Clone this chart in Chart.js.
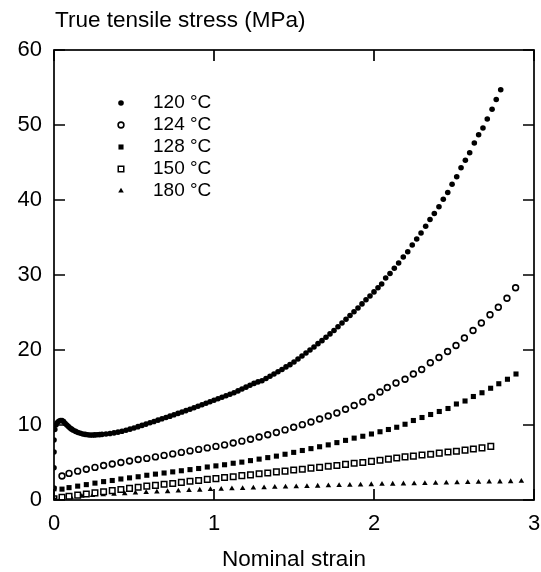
<!DOCTYPE html>
<html>
<head>
<meta charset="utf-8">
<script src="https://cdn.jsdelivr.net/npm/chart.js@4.4.1/dist/chart.umd.min.js"></script>
<style>
  html, body { margin: 0; padding: 0; background: #fff; }
  #wrap { width: 541px; height: 572px; }
</style>
</head>
<body>
<div id="wrap"><canvas id="chart" width="541" height="572"></canvas></div>
<script>
// axis ticks
const xTicks = [0, 1, 2, 3];
const yTicks = [0, 10, 20, 30, 40, 50, 60];

// 120 C (filled circles)
const strain120 = [0, 0, 0, 0, 0, 0.005, 0.012, 0.02, 0.03, 0.04, 0.05, 0.06, 0.07, 0.08, 0.09, 0.1, 0.11, 0.12, 0.135, 0.15,
  0.165, 0.18, 0.195, 0.21, 0.225, 0.24, 0.255, 0.27, 0.285, 0.3, 0.325, 0.35, 0.375, 0.4, 0.425, 0.45, 0.475, 0.5,
  0.525, 0.55, 0.575, 0.6, 0.625, 0.65, 0.675, 0.7, 0.725, 0.75, 0.775, 0.8, 0.825, 0.85, 0.875, 0.9, 0.925, 0.95, 0.975,
  1.0, 1.025, 1.05, 1.075, 1.1, 1.125, 1.15, 1.175, 1.2, 1.225, 1.25, 1.275, 1.3, 1.325, 1.35, 1.375, 1.4, 1.425, 1.45,
  1.475, 1.5, 1.525, 1.55, 1.575, 1.6, 1.625, 1.65, 1.675, 1.7, 1.725, 1.75, 1.775, 1.8, 1.825, 1.85, 1.875, 1.9, 1.925,
  1.95, 1.975, 2.0, 2.025, 2.048, 2.073, 2.1, 2.127, 2.154, 2.183, 2.211, 2.239, 2.267, 2.294, 2.323, 2.35, 2.377, 2.406,
  2.433, 2.461, 2.488, 2.517, 2.544, 2.571, 2.598, 2.627, 2.654, 2.681, 2.708, 2.738, 2.764, 2.792];
const stress120 = [0, 1.6, 4.3, 6.4, 8.0, 9.4, 10.0, 10.3, 10.5, 10.6, 10.6, 10.45, 10.2, 10.0, 9.8, 9.6, 9.45, 9.3, 9.15, 9.0,
  8.9, 8.8, 8.75, 8.7, 8.67, 8.67, 8.68, 8.7, 8.72, 8.75, 8.8, 8.87, 8.95, 9.05, 9.17, 9.3, 9.45, 9.6,
  9.78, 9.95, 10.12, 10.3, 10.47, 10.65, 10.83, 11.0, 11.18, 11.37, 11.55, 11.73, 11.92, 12.1, 12.3, 12.5, 12.7, 12.9, 13.1,
  13.3, 13.5, 13.7, 13.9, 14.1, 14.3, 14.55, 14.8, 15.05, 15.3, 15.55, 15.75, 15.9, 16.2, 16.5, 16.8, 17.1, 17.4, 17.75,
  18.05, 18.4, 18.8, 19.2, 19.6, 20.0, 20.4, 20.85, 21.25, 21.7, 22.15, 22.6, 23.1, 23.6, 24.1, 24.6, 25.1, 25.6, 26.15,
  26.7, 27.2, 27.75, 28.3, 28.8, 29.6, 30.2, 30.9, 31.6, 32.4, 33.1, 34.0, 34.8, 35.6, 36.5, 37.4, 38.2, 39.1,
  40.1, 41.0, 42.1, 43.1, 44.3, 45.3, 46.3, 47.6, 48.7, 49.6, 50.8, 52.1, 53.4, 54.7];

// 124 C (open circles)
const strain124 = [0.05, 0.094, 0.148, 0.202, 0.256, 0.31, 0.364, 0.418, 0.472, 0.526, 0.58, 0.634, 0.688, 0.742, 0.796,
  0.85, 0.904, 0.958, 1.012, 1.066, 1.12, 1.174, 1.228, 1.282, 1.336, 1.39, 1.444, 1.498, 1.552, 1.606, 1.66, 1.714,
  1.768, 1.822, 1.876, 1.93, 1.984, 2.0375, 2.083, 2.1375, 2.194, 2.246, 2.298, 2.352, 2.406, 2.46, 2.5125, 2.565,
  2.619, 2.671, 2.725, 2.777, 2.831, 2.885];
const stress124 = [3.2, 3.55, 3.85, 4.1, 4.35, 4.6, 4.8, 5.0, 5.2, 5.4, 5.55, 5.75, 5.95, 6.15, 6.35,
  6.55, 6.75, 6.95, 7.15, 7.35, 7.6, 7.85, 8.1, 8.4, 8.7, 9.0, 9.35, 9.7, 10.05, 10.4, 10.8, 11.2,
  11.6, 12.1, 12.6, 13.1, 13.7, 14.4, 15.0, 15.6, 16.1, 16.8, 17.4, 18.3, 19.0, 19.8, 20.6, 21.6,
  22.6, 23.6, 24.7, 25.7, 26.9, 28.3];

// 128 C (filled squares)
const strain128 = [0, 0.05, 0.094, 0.148, 0.202, 0.256, 0.31, 0.364, 0.418, 0.472, 0.526, 0.58, 0.634, 0.688, 0.742, 0.796,
  0.85, 0.904, 0.958, 1.012, 1.066, 1.12, 1.174, 1.228, 1.282, 1.336, 1.39, 1.444, 1.498, 1.552, 1.606, 1.66, 1.714,
  1.768, 1.822, 1.876, 1.93, 1.984, 2.0375, 2.09, 2.142, 2.194, 2.246, 2.3, 2.354, 2.408, 2.4625, 2.515, 2.569,
  2.621, 2.675, 2.729, 2.78, 2.834, 2.8875];
const stress128 = [1.5, 1.45, 1.65, 1.85, 2.05, 2.25, 2.45, 2.6, 2.8, 2.95, 3.1, 3.3, 3.45, 3.6, 3.75, 3.9,
  4.05, 4.2, 4.4, 4.55, 4.7, 4.9, 5.05, 5.25, 5.45, 5.65, 5.85, 6.1, 6.35, 6.6, 6.85, 7.1, 7.35,
  7.65, 7.95, 8.25, 8.5, 8.8, 9.1, 9.4, 9.7, 10.1, 10.6, 11.0, 11.4, 11.8, 12.2, 12.8, 13.2,
  13.8, 14.3, 14.9, 15.5, 16.1, 16.8];

// 150 C (open squares)
const strain150 = [0, 0.05, 0.094, 0.148, 0.202, 0.256, 0.31, 0.364, 0.418, 0.472, 0.526, 0.58, 0.634, 0.688, 0.742, 0.796,
  0.85, 0.904, 0.958, 1.012, 1.066, 1.12, 1.174, 1.228, 1.282, 1.336, 1.39, 1.444, 1.498, 1.552, 1.606, 1.66, 1.714,
  1.768, 1.822, 1.876, 1.93, 1.984, 2.0375, 2.09, 2.142, 2.194, 2.246, 2.3, 2.354, 2.408, 2.4625, 2.515, 2.569,
  2.621, 2.675, 2.73];
const stress150 = [0.15, 0.35, 0.5, 0.65, 0.8, 0.95, 1.1, 1.25, 1.4, 1.55, 1.7, 1.85, 1.95, 2.1, 2.2, 2.35,
  2.5, 2.6, 2.75, 2.85, 3.0, 3.1, 3.25, 3.35, 3.5, 3.6, 3.75, 3.85, 4.0, 4.1, 4.25, 4.35, 4.5,
  4.6, 4.75, 4.9, 5.0, 5.15, 5.3, 5.45, 5.6, 5.75, 5.85, 6.0, 6.1, 6.25, 6.4, 6.5, 6.65,
  6.8, 6.95, 7.15];

// 180 C (triangles)
const strain180 = [0.04, 0.107, 0.174, 0.241, 0.308, 0.375, 0.442, 0.509, 0.576, 0.643, 0.71, 0.777, 0.844, 0.911, 0.978,
  1.045, 1.112, 1.179, 1.246, 1.313, 1.38, 1.447, 1.514, 1.581, 1.648, 1.715, 1.782, 1.849, 1.916, 1.983, 2.05,
  2.117, 2.184, 2.251, 2.318, 2.385, 2.452, 2.519, 2.586, 2.653, 2.72, 2.787, 2.854, 2.921];
const stress180 = [0.15, 0.35, 0.5, 0.6, 0.7, 0.78, 0.86, 0.94, 1.0, 1.07, 1.13, 1.2, 1.27, 1.33, 1.4,
  1.45, 1.5, 1.55, 1.6, 1.65, 1.7, 1.74, 1.78, 1.82, 1.86, 1.9, 1.94, 1.98, 2.02, 2.06, 2.1,
  2.13, 2.16, 2.19, 2.22, 2.25, 2.28, 2.31, 2.34, 2.37, 2.4, 2.43, 2.46, 2.5];

const seriesLabels = ['120 °C', '124 °C', '128 °C', '150 °C', '180 °C'];

const FONT = '"Liberation Sans", Arial, Helvetica, sans-serif';

function pts(xs, ys) {
  return xs.map((x, i) => ({ x: x, y: ys[i] }));
}

const datasets = [
  { label: seriesLabels[0], data: pts(strain120, stress120), pointStyle: 'circle', pointRadius: 2.8,
    backgroundColor: '#000', borderColor: '#000', pointBorderWidth: 0 },
  { label: seriesLabels[1], data: pts(strain124, stress124), pointStyle: 'circle', pointRadius: 2.9,
    backgroundColor: '#fff', borderColor: '#000', pointBorderWidth: 1.6 },
  { label: seriesLabels[2], data: pts(strain128, stress128), pointStyle: 'rect', pointRadius: 3.6,
    backgroundColor: '#000', borderColor: '#000', pointBorderWidth: 0 },
  { label: seriesLabels[3], data: pts(strain150, stress150), pointStyle: 'rect', pointRadius: 3.9,
    backgroundColor: '#fff', borderColor: '#000', pointBorderWidth: 1.5 },
  { label: seriesLabels[4], data: pts(strain180, stress180), pointStyle: 'triangle', pointRadius: 3.2,
    backgroundColor: '#000', borderColor: '#000', pointBorderWidth: 0 }
];
datasets.forEach(d => { d.showLine = false; d.pointHoverRadius = d.pointRadius; });

// frame with inward ticks, titles and legend inside the plot
const framePlugin = {
  id: 'frame',
  afterDraw(chart) {
    const ctx = chart.ctx;
    const a = chart.chartArea;
    const xs = chart.scales.x, ys = chart.scales.y;
    const tl = 11;
    ctx.save();
    ctx.strokeStyle = '#000';
    ctx.lineWidth = 1.7;
    ctx.strokeRect(a.left, a.top, a.right - a.left, a.bottom - a.top);
    ctx.beginPath();
    xTicks.forEach(v => {
      const px = xs.getPixelForValue(v);
      ctx.moveTo(px, a.bottom); ctx.lineTo(px, a.bottom - tl);
      ctx.moveTo(px, a.top); ctx.lineTo(px, a.top + tl);
    });
    yTicks.forEach(v => {
      const py = ys.getPixelForValue(v);
      ctx.moveTo(a.left, py); ctx.lineTo(a.left + tl, py);
      ctx.moveTo(a.right, py); ctx.lineTo(a.right - tl, py);
    });
    ctx.stroke();

    ctx.fillStyle = '#000';
    ctx.font = '22.5px ' + FONT;
    ctx.textBaseline = 'alphabetic';
    ctx.textAlign = 'left';
    ctx.fillText('True tensile stress (MPa)', a.left + 1, 27);
    ctx.textAlign = 'center';
    ctx.fillText('Nominal strain', (a.left + a.right) / 2, 566);

    // legend
    ctx.font = '19px ' + FONT;
    ctx.textAlign = 'left';
    ctx.textBaseline = 'middle';
    chart.data.datasets.forEach((d, i) => {
      const y = 103 + i * 22;
      ctx.fillStyle = d.backgroundColor;
      ctx.strokeStyle = d.borderColor;
      ctx.lineWidth = d.pointBorderWidth;
      Chart.helpers.drawPoint(ctx, {
        pointStyle: d.pointStyle, radius: d.pointRadius, rotation: 0, borderWidth: d.pointBorderWidth
      }, 121, y);
      ctx.fillStyle = '#000';
      ctx.fillText(d.label, 153, y);
    });
    ctx.restore();
  }
};

new Chart(document.getElementById('chart'), {
  type: 'scatter',
  data: { datasets: datasets },
  options: {
    responsive: false,
    animation: false,
    layout: { padding: { top: 50, right: 7, left: 0, bottom: 0 } },
    plugins: { legend: { display: false }, tooltip: { enabled: false } },
    scales: {
      x: {
        type: 'linear', min: 0, max: 3,
        afterBuildTicks: s => { s.ticks = xTicks.map(v => ({ value: v })); },
        afterFit: s => { s.height = 72; s.paddingLeft = 0; s.paddingRight = 0; },
        grid: { display: false, drawTicks: false },
        border: { display: false },
        ticks: { padding: 11, color: '#000', font: { family: FONT, size: 22 } }
      },
      y: {
        type: 'linear', min: 0, max: 60,
        afterBuildTicks: s => { s.ticks = yTicks.map(v => ({ value: v })); },
        afterFit: s => { s.width = 54; s.paddingTop = 0; s.paddingBottom = 0; },
        grid: { display: false, drawTicks: false },
        border: { display: false },
        ticks: { padding: 12, color: '#000', font: { family: FONT, size: 22 } }
      }
    }
  },
  plugins: [framePlugin]
});
</script>
</body>
</html>
